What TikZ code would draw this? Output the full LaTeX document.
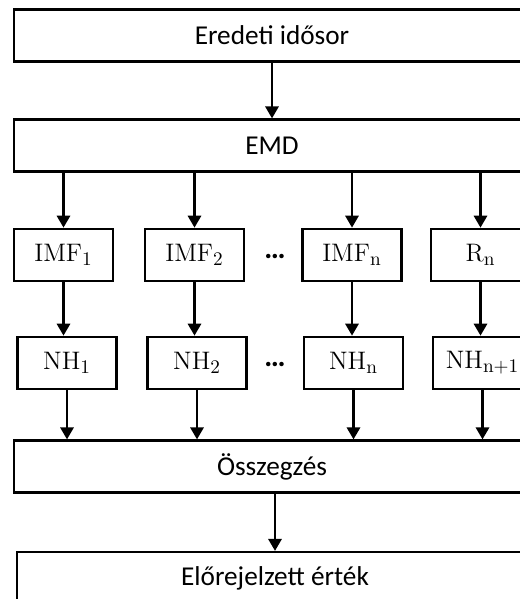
\documentclass[tikz,border=0pt]{standalone}
\usepackage[no-math]{fontspec}
\setmainfont{Carlito}
\usetikzlibrary{arrows.meta}
\tikzstyle{widestep}=[draw,line width=1.3pt,minimum width=10.32cm,minimum height=1.04cm,inner sep=0pt,font=\fontsize{15.5}{18}\selectfont]
\tikzstyle{smallstep}=[draw,line width=1.3pt,minimum width=1.98cm,minimum height=1.05cm,inner sep=0pt,font=\fontsize{15.5}{18}\selectfont]
\tikzstyle{orientedarc}=[-{Triangle[length=6.8pt,width=7.6pt]},line width=1.2pt]
\tikzstyle{ellipsis}=[font=\fontsize{17}{20}\selectfont\bfseries]

\begin{document}
\begin{tikzpicture}
\clip (0cm,0cm) rectangle (10.4cm,11.98cm);

\node[widestep] (ORIG) at (5.44cm,11.27cm) {Eredeti idősor};
\node[widestep] (EMD) at (5.44cm,9.07cm) {EMD};

\node[smallstep] (IMF1) at (1.27cm,6.88cm) {$\mathrm{IMF}_1$};
\node[smallstep] (IMF2) at (3.89cm,6.88cm) {$\mathrm{IMF}_2$};
\node[smallstep] (IMFN) at (7.04cm,6.88cm) {$\mathrm{IMF}_\mathrm{n}$};
\node[smallstep] (RN) at (9.61cm,6.88cm) {$\mathrm{R}_\mathrm{n}$};
\node[ellipsis] (D1) at (5.50cm,6.84cm) {…};

\node[smallstep] (NH1) at (1.34cm,4.72cm) {$\mathrm{NH}_1$};
\node[smallstep] (NH2) at (3.94cm,4.72cm) {$\mathrm{NH}_2$};
\node[smallstep] (NHN) at (7.07cm,4.72cm) {$\mathrm{NH}_\mathrm{n}$};
\node[smallstep] (NHR) at (9.65cm,4.72cm) {$\mathrm{NH}_\mathrm{n+1}$};
\node[ellipsis] (D2) at (5.50cm,4.68cm) {…};

\node[widestep] (SUM) at (5.44cm,2.65cm) {Összegzés};
\node[widestep] (PRED) at (5.50cm,0.42cm) {Előrejelzett érték};

\draw[orientedarc] (ORIG) -- (EMD);

\draw[orientedarc] (EMD.south -| IMF1) -- (IMF1);
\draw[orientedarc] (EMD.south -| IMF2) -- (IMF2);
\draw[orientedarc] (EMD.south -| IMFN) -- (IMFN);
\draw[orientedarc] (EMD.south -| RN) -- (RN);

\draw[orientedarc] (IMF1) -- (IMF1 |- NH1.north);
\draw[orientedarc] (IMF2) -- (IMF2 |- NH2.north);
\draw[orientedarc] (IMFN) -- (IMFN |- NHN.north);
\draw[orientedarc] (RN) -- (RN |- NHR.north);

\draw[orientedarc] (NH1) -- (NH1 |- SUM.north);
\draw[orientedarc] (NH2) -- (NH2 |- SUM.north);
\draw[orientedarc] (NHN) -- (NHN |- SUM.north);
\draw[orientedarc] (NHR) -- (NHR |- SUM.north);

\draw[orientedarc] (SUM.south -| PRED) -- (PRED);

\end{tikzpicture}
\end{document}
